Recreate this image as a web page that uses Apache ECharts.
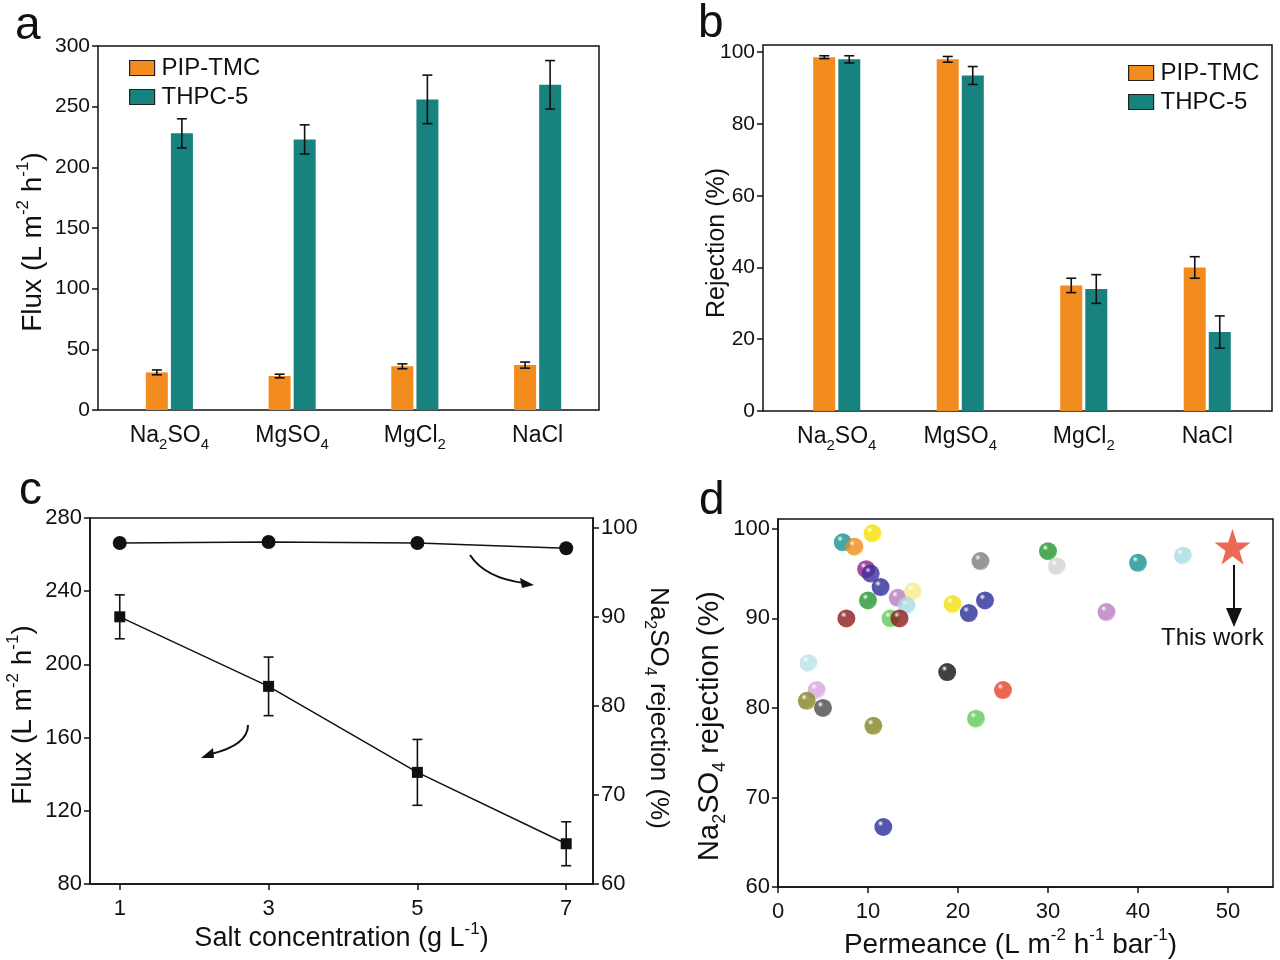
<!DOCTYPE html>
<html>
<head>
<meta charset="utf-8">
<script src="https://cdn.jsdelivr.net/npm/echarts@6/dist/echarts.min.js"></script>
<style>
html,body{margin:0;padding:0;background:#fff;}
#chart{width:1280px;height:960px;}
</style>
</head>
<body>
<div id="chart"></div>
<script>
// ---------- DATA ----------
const salts = ['Na2SO4', 'MgSO4', 'MgCl2', 'NaCl'];
const seriesNames = ['PIP-TMC', 'THPC-5'];
// panel a: flux
const fluxPIP = [31, 28, 36, 37];
const fluxPIPErr = [2, 1.5, 2, 2.5];
const fluxTHPC = [228, 223, 256, 268];
const fluxTHPCErr = [12, 12, 20, 20];
// panel b: rejection
const rejPIP = [98.6, 98, 35, 40];
const rejPIPErr = [0.4, 0.8, 2, 3];
const rejTHPC = [98, 93.5, 34, 22];
const rejTHPCErr = [1, 2.5, 4, 4.5];
// panel c: salt concentration
const saltConc = [1, 3, 5, 7];
const concFlux = [226, 188, 141, 102];
const concFluxErr = [12, 16, 18, 12];
const concRej = [98.3, 98.4, 98.3, 97.7];
const concRejErr = [0.4, 0.2, 0.2, 0.2];
const concTicks = [1, 3, 5, 7];
// panel d: literature comparison
const permeance = [7.2, 8.5, 10.5, 9.8, 10.3, 11.4, 10.0, 13.3, 15.0, 14.3, 7.6, 12.5, 13.5, 19.4, 21.2, 23.0, 22.5, 30.0, 31.0, 40.0, 45.0, 36.5, 3.4, 4.3, 3.2, 5.0, 10.6, 18.8, 25.0, 22.0, 11.7];
const litRejection = [98.5, 98, 99.5, 95.5, 95, 93.5, 92, 92.3, 93, 91.4, 90, 90, 90, 91.6, 90.6, 92, 96.4, 97.5, 95.8, 96.2, 97, 90.7, 85, 82, 80.8, 80, 78, 84, 82, 78.8, 66.7];
const pointColors = ['#17908e', '#f08a1c', '#f5e000', '#8e1d90', '#3a2f9a', '#2a2c96', '#249430', '#b77bc0', '#f3ec8a', '#a8dbe3', '#8a1b1b', '#62c85a', '#8a1b1b', '#f3df10', '#2a2c96', '#2a2c96', '#7d7d7d', '#249430', '#d2d2d2', '#17908e', '#a8dbe3', '#b77bc0', '#b9e3ea', '#d5a6dc', '#858226', '#4a4a4a', '#858226', '#111111', '#e8402a', '#62c85a', '#2a2c96'];
const thisWork = [[50.5, 98]];

// ---------- STYLE ----------
const FONT = '"Liberation Sans", Arial, sans-serif';
const ORANGE = '#f28c1e';
const TEAL = '#18827e';
const BLACK = '#111';

function chem(s) {
  return s.replace(/(\D+)|(\d+)/g, (m, a, d) => a ? '{n|' + a + '}' : '{s|' + d + '}');
}
const chemRich = {
  n: {fontSize: 23, fontFamily: FONT, color: BLACK, lineHeight: 32, verticalAlign: 'middle'},
  s: {fontSize: 15, fontFamily: FONT, color: BLACK, lineHeight: 32, verticalAlign: 'bottom'}
};
function titleRich(fs) {
  const sm = Math.round(fs * 0.62);
  const lh = Math.round(fs * 1.3);
  return {
    n: {fontSize: fs, fontFamily: FONT, color: BLACK, lineHeight: lh, verticalAlign: 'middle'},
    u: {fontSize: sm, fontFamily: FONT, color: BLACK, lineHeight: lh, verticalAlign: 'top'},
    s: {fontSize: sm, fontFamily: FONT, color: BLACK, lineHeight: lh, verticalAlign: 'bottom'}
  };
}
function nameStyle(fs, pad) {
  return {rich: titleRich(fs), padding: pad || 0};
}

const axisLine = {show: true, lineStyle: {color: BLACK, width: 1.5}};
const tickOut = {show: true, inside: false, length: 6, lineStyle: {color: BLACK, width: 1.5}};
function numLabel(fs, extra) {
  return Object.assign({color: BLACK, fontSize: fs, fontFamily: FONT, margin: 8}, extra || {});
}

function gridBox(l, t, w, h) {
  return {left: l, top: t, width: w, height: h, show: true, borderColor: BLACK, borderWidth: 1.5, backgroundColor: 'transparent', containLabel: false, outerBoundsMode: 'none'};
}
function gridPlain(l, t, w, h) {
  return {left: l, top: t, width: w, height: h, show: false, containLabel: false, outerBoundsMode: 'none'};
}

function errSeries(xi, yi, xs, vals, errs, offset) {
  return {
    type: 'custom', xAxisIndex: xi, yAxisIndex: yi, z: 10, silent: true,
    data: vals.map((v, i) => [xs[i], v - errs[i], v + errs[i]]),
    encode: {x: 0, y: [1, 2]},
    renderItem: function (params, api) {
      const lo = api.coord([api.value(0), api.value(1)]);
      const hi = api.coord([api.value(0), api.value(2)]);
      const x = lo[0] + offset;
      const cw = 5;
      const st = {stroke: BLACK, lineWidth: 1.6};
      return {type: 'group', children: [
        {type: 'line', shape: {x1: x, y1: lo[1], x2: x, y2: hi[1]}, style: st},
        {type: 'line', shape: {x1: x - cw, y1: lo[1], x2: x + cw, y2: lo[1]}, style: st},
        {type: 'line', shape: {x1: x - cw, y1: hi[1], x2: x + cw, y2: hi[1]}, style: st}
      ]};
    }
  };
}

function sphere(c) {
  const dark = echarts.color.lift(c, -0.3);
  return new echarts.graphic.RadialGradient(0.35, 0.3, 0.75, [
    {offset: 0, color: '#ffffff'},
    {offset: 0.22, color: c},
    {offset: 0.8, color: c},
    {offset: 1, color: dark}
  ]);
}

const BW = 22, OFF = 12.5;
const catIdx = salts.map((s, i) => i);
const starPath = 'path://M50,0 L61.8,35.4 L99,35.4 L69,57.3 L80.3,92.7 L50,70.8 L19.7,92.7 L31,57.3 L1,35.4 L38.2,35.4 Z';
const letterStyle = {fontSize: 46, fontWeight: 'normal', color: BLACK, fontFamily: FONT};
const legendCommon = {data: seriesNames, orient: 'vertical', itemWidth: 25, itemHeight: 15, itemGap: 5,
  icon: 'rect', itemStyle: {borderColor: '#222', borderWidth: 1.2},
  textStyle: {fontSize: 24, color: BLACK, fontFamily: FONT, padding: [0, 0, 0, 2]}, selectedMode: false};

const option = {
  backgroundColor: '#fff',
  animation: false,
  textStyle: {fontFamily: FONT},
  title: [
    {text: 'a', left: 10, top: -2, textStyle: letterStyle},
    {text: 'b', left: 693, top: -4, textStyle: letterStyle},
    {text: 'c', left: 14, top: 463, textStyle: letterStyle},
    {text: 'd', left: 694, top: 473, textStyle: letterStyle}
  ],
  legend: [
    Object.assign({left: 124, top: 51}, legendCommon),
    Object.assign({left: 1123, top: 56}, legendCommon)
  ],
  grid: [
    gridBox(98, 46, 501, 364),      // 0 frame a
    gridPlain(108, 46, 491, 364),   // 1 data a
    gridBox(763, 45, 509, 366),     // 2 frame b
    gridPlain(775, 45, 494, 366),   // 3 data b
    gridBox(90, 518, 503, 366),     // 4 c
    gridBox(778, 519, 495, 368)     // 5 d
  ],
  xAxis: [
    // a (index 0)
    {type: 'category', gridIndex: 1, data: salts, axisLine: {show: false}, axisTick: {show: false},
     axisLabel: {interval: 0, formatter: v => chem(v), rich: chemRich, margin: 10}},
    // b (index 1)
    {type: 'category', gridIndex: 3, data: salts, axisLine: {show: false}, axisTick: {show: false},
     axisLabel: {interval: 0, formatter: v => chem(v), rich: chemRich, margin: 10}},
    // c (index 2)
    {type: 'value', gridIndex: 4, min: 0.6, max: 7.36, axisLine: axisLine, splitLine: {show: false},
     axisTick: Object.assign({}, tickOut, {customValues: concTicks}),
     axisLabel: numLabel(22, {customValues: concTicks, margin: 14}),
     name: '{n|Salt concentration (g L}{u|-1}{n|)}', nameLocation: 'middle', nameGap: 36,
     nameTextStyle: nameStyle(27)},
    // d (index 3)
    {type: 'value', gridIndex: 5, min: 0, max: 55, interval: 10, axisLine: axisLine, splitLine: {show: false},
     axisTick: tickOut, axisLabel: numLabel(22, {showMaxLabel: false, margin: 14}),
     name: '{n|Permeance (L m}{u|-2}{n| h}{u|-1}{n| bar}{u|-1}{n|)}', nameLocation: 'middle', nameGap: 40,
     nameTextStyle: nameStyle(28, [0, 30, 0, 0])}
  ],
  yAxis: [
    // a (0)
    {type: 'value', gridIndex: 1, offset: 10, min: 0, max: 300, interval: 50, axisLine: {show: false}, splitLine: {show: false},
     axisTick: tickOut, axisLabel: numLabel(21),
     name: '{n|Flux (L m}{u|-2}{n| h}{u|-1}{n|)}', nameLocation: 'middle', nameGap: 47, nameRotate: 90,
     nameTextStyle: nameStyle(28, [0, 28, 0, 0])},
    // b (1)
    {type: 'value', gridIndex: 3, offset: 12, min: 0, max: 102, interval: 20, axisLine: {show: false}, splitLine: {show: false},
     axisTick: tickOut, axisLabel: numLabel(21, {showMaxLabel: false}),
     name: '{n|Rejection (%)}', nameLocation: 'middle', nameGap: 29, nameRotate: 90, nameMoveOverlap: false,
     nameTextStyle: nameStyle(25, [0, 30, 0, 0])},
    // c left (2)
    {type: 'value', gridIndex: 4, min: 80, max: 280, interval: 40, axisLine: axisLine, splitLine: {show: false},
     axisTick: tickOut, axisLabel: numLabel(22),
     name: '{n|Flux (L m}{u|-2}{n| h}{u|-1}{n|)}', nameLocation: 'middle', nameGap: 49, nameRotate: 90,
     nameTextStyle: nameStyle(28, [0, 28, 0, 0])},
    // c right (3)
    {type: 'value', gridIndex: 4, position: 'right', min: 60, max: 101.1, interval: 10, axisLine: axisLine, splitLine: {show: false},
     axisTick: tickOut, axisLabel: numLabel(22, {showMaxLabel: false}),
     name: '{n|Na}{s|2}{n|SO}{s|4}{n| rejection (%)}', nameLocation: 'middle', nameGap: 40, nameRotate: -90,
     nameTextStyle: nameStyle(26, [0, 0, 0, 14])},
    // d (4)
    {type: 'value', gridIndex: 5, min: 60, max: 101.1, interval: 10, axisLine: axisLine, splitLine: {show: false},
     axisTick: tickOut, axisLabel: numLabel(22, {showMaxLabel: false}),
     name: '{n|Na}{s|2}{n|SO}{s|4}{n| rejection (%)}', nameLocation: 'middle', nameGap: 45, nameRotate: 90,
     nameTextStyle: nameStyle(29, [0, 46, 0, 0])}
  ],
  series: [
    // panel a
    {name: seriesNames[0], type: 'bar', xAxisIndex: 0, yAxisIndex: 0, data: fluxPIP, barWidth: BW, barGap: '14%',
     itemStyle: {color: ORANGE}},
    {name: seriesNames[1], type: 'bar', xAxisIndex: 0, yAxisIndex: 0, data: fluxTHPC, barWidth: BW, barGap: '14%',
     itemStyle: {color: TEAL}},
    errSeries(0, 0, catIdx, fluxPIP, fluxPIPErr, -OFF),
    errSeries(0, 0, catIdx, fluxTHPC, fluxTHPCErr, OFF),
    // panel b
    {name: seriesNames[0], type: 'bar', xAxisIndex: 1, yAxisIndex: 1, data: rejPIP, barWidth: BW, barGap: '14%',
     itemStyle: {color: ORANGE}},
    {name: seriesNames[1], type: 'bar', xAxisIndex: 1, yAxisIndex: 1, data: rejTHPC, barWidth: BW, barGap: '14%',
     itemStyle: {color: TEAL}},
    errSeries(1, 1, catIdx, rejPIP, rejPIPErr, -OFF),
    errSeries(1, 1, catIdx, rejTHPC, rejTHPCErr, OFF),
    // panel c
    {type: 'line', xAxisIndex: 2, yAxisIndex: 2, data: saltConc.map((x, i) => [x, concFlux[i]]),
     symbol: 'rect', symbolSize: 11, itemStyle: {color: BLACK}, lineStyle: {color: BLACK, width: 1.5}, z: 5},
    errSeries(2, 2, saltConc, concFlux, concFluxErr, 0),
    {type: 'line', xAxisIndex: 2, yAxisIndex: 3, data: saltConc.map((x, i) => [x, concRej[i]]),
     symbol: 'circle', symbolSize: 14, itemStyle: {color: BLACK}, lineStyle: {color: BLACK, width: 1.5}, z: 5},
    errSeries(2, 3, saltConc, concRej, concRejErr, 0),
    // panel d
    {type: 'scatter', xAxisIndex: 3, yAxisIndex: 4, symbolSize: 18,
     data: permeance.map((x, i) => ({value: [x, litRejection[i]], itemStyle: {color: sphere(pointColors[i])}}))},
    {type: 'scatter', xAxisIndex: 3, yAxisIndex: 4, symbol: starPath, symbolSize: 36, data: thisWork,
     itemStyle: {color: '#e8432c'}, z: 6}
  ],
  graphic: [
    // panel c curved arrows
    {type: 'bezierCurve', shape: {x1: 470, y1: 555, cpx1: 485, cpy1: 578, x2: 524, y2: 583}, style: {stroke: BLACK, lineWidth: 2, fill: null}},
    {type: 'polygon', shape: {points: [[534, 585], [520, 578], [522, 588]]}, style: {fill: BLACK}},
    {type: 'bezierCurve', shape: {x1: 248, y1: 725, cpx1: 248, cpy1: 745, x2: 211, y2: 754}, style: {stroke: BLACK, lineWidth: 2, fill: null}},
    {type: 'polygon', shape: {points: [[201, 758], [213, 748], [214, 758]]}, style: {fill: BLACK}},
    // panel d "This work"
    {type: 'line', shape: {x1: 1234, y1: 565, x2: 1234, y2: 612}, style: {stroke: BLACK, lineWidth: 2}},
    {type: 'polygon', shape: {points: [[1226, 608], [1242, 608], [1234, 627]]}, style: {fill: BLACK}},
    {type: 'text', left: 1161, top: 626, style: {text: 'This work', fontSize: 24, fontFamily: FONT, fill: BLACK}}
  ]
};

const chart = echarts.init(document.getElementById('chart'), null, {renderer: 'canvas'});
chart.setOption(option);
</script>
</body>
</html>
